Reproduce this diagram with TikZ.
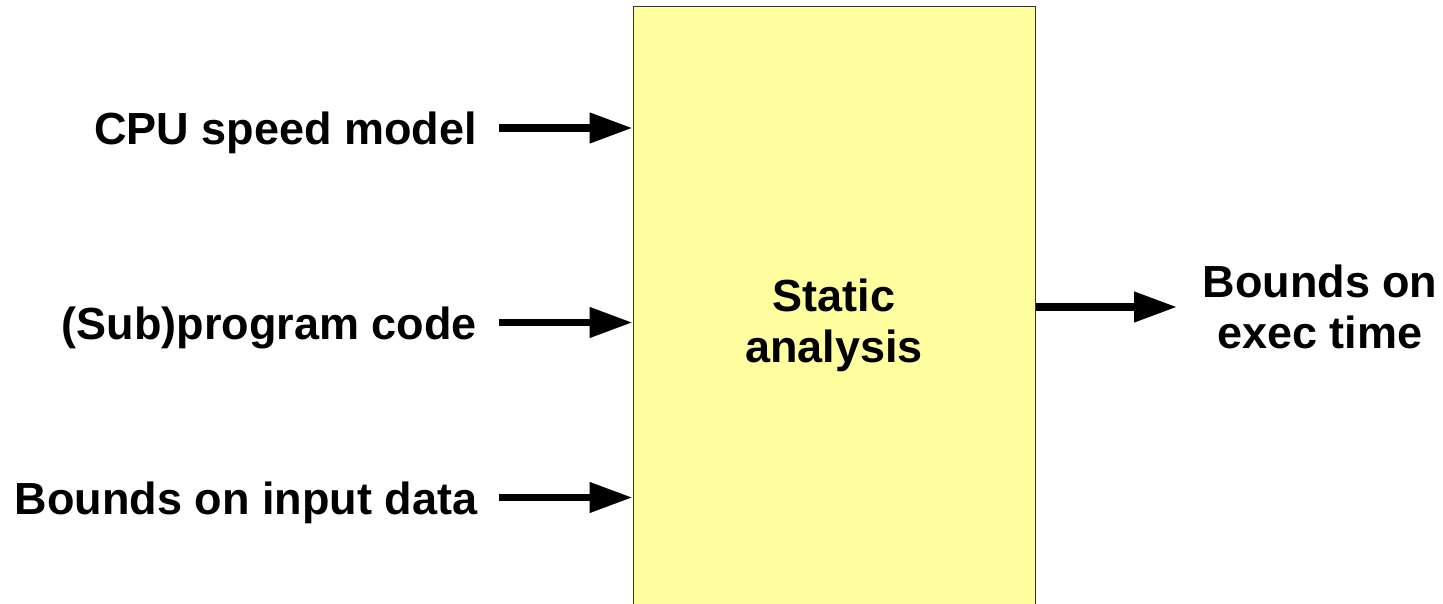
\documentclass[tikz,border=0pt]{standalone}
\usepackage{fontspec}
\setmainfont{Liberation Sans}
\usetikzlibrary{arrows.meta}
\definecolor{boxfill}{HTML}{FFFFA0}
\definecolor{boxline}{HTML}{333333}
\begin{document}
\begin{tikzpicture}[x=1pt,y=-1pt,
  lbl/.style={font=\fontsize{45}{51}\selectfont\bfseries, inner sep=0pt},
  inlbl/.style={lbl, anchor=east, text height=34pt, text depth=0pt, outer xsep=22pt},
  flow/.style={line width=7.5pt, -{Triangle[length=43pt,width=29pt]}},
  stage/.style={draw=boxline, fill=boxfill, line width=1pt, inner sep=0pt,
    minimum width=402pt, minimum height=636pt, align=center}]
  \useasboundingbox (0,0) rectangle (1443,604);

  % processing block (runs past the lower edge)
  \node[stage, lbl, anchor=north west] (sa) at (632.5,6.5) {Static\\analysis};

  % inputs
  \node[inlbl] (cpu) at (499,128)   {CPU speed model};
  \node[inlbl] (code) at (499,322.5) {(Sub)program code};
  \node[inlbl] (data) at (499,497.5) {Bounds on input data};

  \draw[flow] (cpu.east)  -- (sa.west |- cpu.east);
  \draw[flow] (code.east) -- (sa.west |- code.east);
  \draw[flow] (data.east) -- (sa.west |- data.east);

  % output
  \node[lbl, align=center] (out) at (1320,307) {Bounds on\\exec time};
  \coordinate (outtip) at (1177,307);
  \draw[flow] (sa.east |- outtip) -- (outtip);
\end{tikzpicture}
\end{document}
